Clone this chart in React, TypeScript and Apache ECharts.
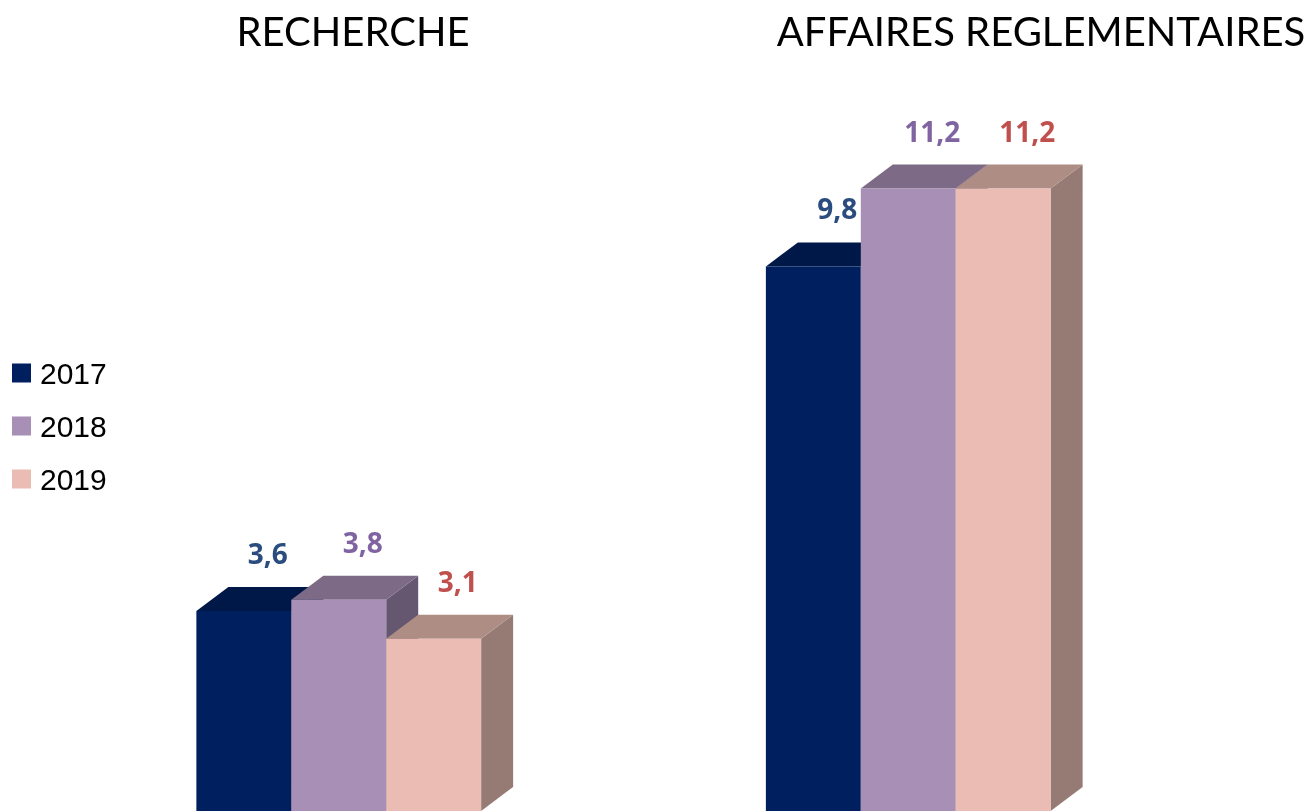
import React, { useEffect, useRef } from "react";
import * as echarts from "echarts";

const categories = ["RECHERCHE", "AFFAIRES REGLEMENTAIRES"];
const years = ["2017", "2018", "2019"];
const values2017 = [3.6, 9.8];
const values2018 = [3.8, 11.2];
const values2019 = [3.1, 11.2];
const seriesValues = [values2017, values2018, values2019];

const frontColors = ["#001F5E", "#A78FB6", "#EBBCB3"];
const topColors = ["#001848", "#7D6A86", "#AE8D85"];
const sideColors = ["#00143C", "#665771", "#957B74"];
const labelColors = ["#2B4C7E", "#8064A2", "#C0504D"];

const DX = 32;
const DY = -24;

export default function App() {
  const ref = useRef<HTMLDivElement>(null);
  useEffect(() => {
    if (!ref.current) return;
    const chart = echarts.init(ref.current, null, { renderer: "svg" });
    const series = years.map((name, idx) => ({
      type: "custom",
      name,
      itemStyle: { color: frontColors[idx] },
      data: seriesValues[idx].map((v, i) => [i, v]),
      renderItem: (params: any, api: any) => {
        const cat = api.value(0);
        const v = api.value(1);
        const top = api.coord([cat, v]);
        const base = api.coord([cat, 0]);
        const band = api.size([1, 0])[0];
        const w = band / 6;
        const left = top[0] + (idx - 1.5) * w;
        const ty = top[1];
        const by = base[1];
        return {
          type: "group",
          children: [
            {
              type: "polygon",
              shape: {
                points: [
                  [left + w, ty],
                  [left + w + DX, ty + DY],
                  [left + w + DX, by + DY],
                  [left + w, by],
                ],
              },
              style: { fill: sideColors[idx] },
            },
            {
              type: "polygon",
              shape: {
                points: [
                  [left, ty],
                  [left + w, ty],
                  [left + w + DX, ty + DY],
                  [left + DX, ty + DY],
                ],
              },
              style: { fill: topColors[idx] },
            },
            {
              type: "rect",
              shape: { x: left, y: ty, width: w, height: by - ty },
              style: { fill: frontColors[idx] },
            },
            {
              type: "text",
              style: {
                text: v.toFixed(1).replace(".", ","),
                x: left + w / 2 + 24,
                y: ty - 58,
                textAlign: "center",
                textVerticalAlign: "middle",
                fill: labelColors[idx],
                fontFamily: "Open Sans",
                fontWeight: "bold",
                fontSize: 28,
              },
            },
          ],
        };
      },
    }));
    chart.setOption({
      animation: false,
      grid: { left: 54, right: 119, top: 33, bottom: -3 },
      xAxis: { type: "category", data: categories, show: false },
      yAxis: { type: "value", min: 0, max: 14, show: false },
      legend: {
        orient: "vertical",
        left: 12,
        top: 358,
        padding: 0,
        itemWidth: 19,
        itemHeight: 19,
        itemGap: 23,
        icon: "rect",
        data: years,
        textStyle: {
          fontFamily: "Liberation Sans",
          fontSize: 30,
          color: "#000000",
          padding: [0, 0, 0, 4],
          lineHeight: 30,
        },
      },
      graphic: [
        {
          type: "text",
          x: 353,
          y: 31,
          style: {
            text: categories[0],
            textAlign: "center",
            textVerticalAlign: "middle",
            fontFamily: "Lato",
            fontSize: 40,
            fill: "#000000",
          },
        },
        {
          type: "text",
          x: 1041,
          y: 31,
          style: {
            text: categories[1],
            textAlign: "center",
            textVerticalAlign: "middle",
            fontFamily: "Lato",
            fontSize: 40,
            fill: "#000000",
          },
        },
      ],
      series,
    });
    return () => chart.dispose();
  }, []);
  return (
    <div
      ref={ref}
      style={{ position: "fixed", left: 0, top: 0, width: 1312, height: 811 }}
    />
  );
}
